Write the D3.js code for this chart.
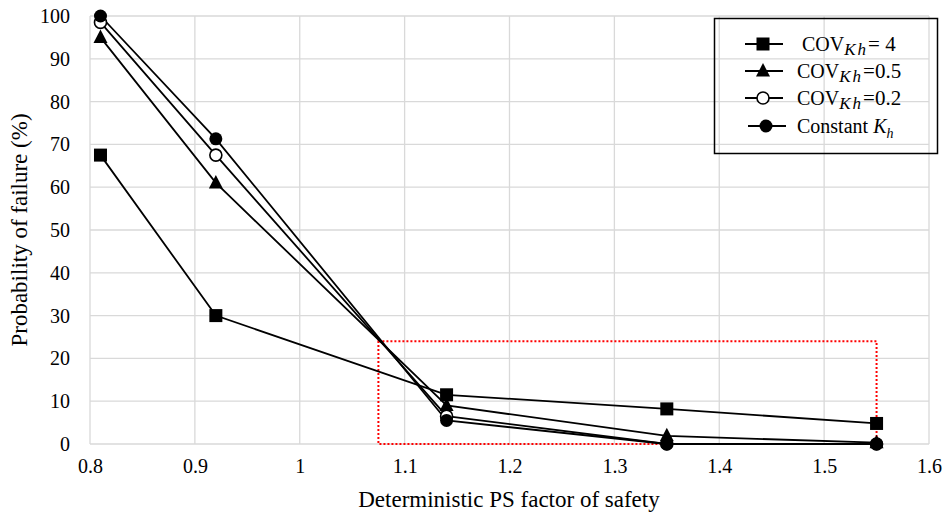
<!DOCTYPE html>
<html>
<head>
<meta charset="utf-8">
<script src="https://cdn.jsdelivr.net/npm/d3@7"></script>
<style>
  body { margin: 0; background: #fff; }
  svg { display: block; font-family: "Liberation Serif", "Times New Roman", serif; }
</style>
</head>
<body>
<svg id="chart" width="946" height="519"></svg>
<script>
// Deterministic factor of safety (x) and probability of failure in % (y)
const fos = [0.81, 0.92, 1.14, 1.35, 1.55];
const pfCov4 = [67.5, 30.0, 11.5, 8.2, 4.8];
const pfCov05 = [95.0, 61.0, 9.0, 1.9, 0.3];
const pfCov02 = [98.5, 67.5, 6.5, 0.0, 0.0];
const pfConst = [100.0, 71.3, 5.5, 0.0, 0.0];

const xTicks = [0.8, 0.9, 1.0, 1.1, 1.2, 1.3, 1.4, 1.5, 1.6];
const yTicks = [0, 10, 20, 30, 40, 50, 60, 70, 80, 90, 100];

// Highlighted region (dotted red frame)
const zoneX = [1.075, 1.55];
const zoneY = [0, 24];

const series = [
  { values: pfCov4, marker: "square", label: "= 4", sub: true },
  { values: pfCov05, marker: "triangle", label: "=0.5", sub: true },
  { values: pfCov02, marker: "open", label: "=0.2", sub: true },
  { values: pfConst, marker: "circle", label: "Constant", sub: false }
];

const FONT = "'Liberation Serif', 'Times New Roman', serif";
const svg = d3.select("#chart");
const m = { left: 90, right: 929, top: 16, bottom: 444 };
const x = d3.scaleLinear().domain([0.8, 1.6]).range([m.left, m.right]);
const y = d3.scaleLinear().domain([0, 100]).range([m.bottom, m.top]);

// grid
svg.append("g").selectAll("line").data(yTicks).join("line")
  .attr("x1", m.left).attr("x2", m.right)
  .attr("y1", d => y(d)).attr("y2", d => y(d))
  .attr("stroke", "#d9d9d9").attr("stroke-width", 1.3);
svg.append("g").selectAll("line").data(xTicks).join("line")
  .attr("y1", m.top).attr("y2", m.bottom)
  .attr("x1", d => x(d)).attr("x2", d => x(d))
  .attr("stroke", "#d9d9d9").attr("stroke-width", 1.3);

// axes (labels only, lines come from grid)
const xAxis = d3.axisBottom(x).tickValues(xTicks)
  .tickFormat(d => String(+d.toFixed(1))).tickSize(0).tickPadding(15);
svg.append("g").attr("transform", `translate(0,${m.bottom})`).call(xAxis)
  .attr("font-family", FONT)
  .call(g => g.select(".domain").remove())
  .selectAll("text").attr("font-size", 20).attr("fill", "#000");

const yAxis = d3.axisLeft(y).tickValues(yTicks).tickSize(0).tickPadding(20);
svg.append("g").attr("transform", `translate(${m.left},0)`).call(yAxis)
  .attr("font-family", FONT)
  .call(g => g.select(".domain").remove())
  .selectAll("text").attr("font-size", 20).attr("fill", "#000");

// axis titles
svg.append("text").attr("x", 509).attr("y", 507)
  .attr("text-anchor", "middle").attr("font-size", 23).text("Deterministic PS factor of safety");
svg.append("text").attr("transform", `translate(27,${(m.top + m.bottom) / 2}) rotate(-90)`)
  .attr("text-anchor", "middle").attr("font-size", 23).text("Probability of failure (%)");

// red dotted frame
svg.append("rect")
  .attr("x", x(zoneX[0])).attr("y", y(zoneY[1]))
  .attr("width", x(zoneX[1]) - x(zoneX[0])).attr("height", y(zoneY[0]) - y(zoneY[1]))
  .attr("fill", "none").attr("stroke", "#ff0000").attr("stroke-width", 2)
  .attr("stroke-dasharray", "2,2");

function drawMarker(g, type, cx, cy) {
  if (type === "square") {
    g.append("rect").attr("x", cx - 6.5).attr("y", cy - 6.5).attr("width", 13).attr("height", 13).attr("fill", "#000");
  } else if (type === "triangle") {
    g.append("path").attr("d", `M${cx},${cy - 8}L${cx + 7},${cy + 5.5}L${cx - 7},${cy + 5.5}Z`).attr("fill", "#000");
  } else if (type === "open") {
    g.append("circle").attr("cx", cx).attr("cy", cy).attr("r", 6).attr("fill", "#fff").attr("stroke", "#000").attr("stroke-width", 1.6);
  } else {
    g.append("circle").attr("cx", cx).attr("cy", cy).attr("r", 6.5).attr("fill", "#000");
  }
}

const line = d3.line().x((d, i) => x(fos[i])).y(d => y(d));
series.forEach(s => {
  svg.append("path").attr("d", line(s.values)).attr("fill", "none")
    .attr("stroke", "#000").attr("stroke-width", 1.8);
});
series.forEach(s => {
  const g = svg.append("g");
  s.values.forEach((v, i) => drawMarker(g, s.marker, x(fos[i]), y(v)));
});

// legend
const lg = svg.append("g");
lg.append("rect").attr("x", 714.5).attr("y", 18.5).attr("width", 223).attr("height", 135)
  .attr("fill", "none").attr("stroke", "#000").attr("stroke-width", 1.5);
const rowY = [44, 71, 98, 126];
const textX = [802, 797, 797, 797];
series.forEach((s, i) => {
  const cy = rowY[i];
  const x0 = i === 3 ? 748 : 745;
  lg.append("line").attr("x1", x0).attr("x2", x0 + 38).attr("y1", cy).attr("y2", cy)
    .attr("stroke", "#000").attr("stroke-width", 1.8);
  drawMarker(lg, s.marker, x0 + 18, cy);
  const t = lg.append("text").attr("x", textX[i]).attr("y", cy + 7);
  if (s.sub) {
    t.append("tspan").attr("font-size", 20).text("COV");
    t.append("tspan").attr("font-style", "italic").attr("dy", 4).attr("font-size", 17)
      .attr("letter-spacing", 2).text("Kh");
    t.append("tspan").attr("dy", -4).attr("font-size", 21).text(s.label);
  } else {
    t.append("tspan").attr("font-size", 20).text(s.label + " ");
    t.append("tspan").attr("font-size", 20).attr("font-style", "italic").text("K");
    t.append("tspan").attr("font-style", "italic").attr("dy", 5).attr("font-size", 14).text("h");
  }
});
</script>
</body>
</html>
